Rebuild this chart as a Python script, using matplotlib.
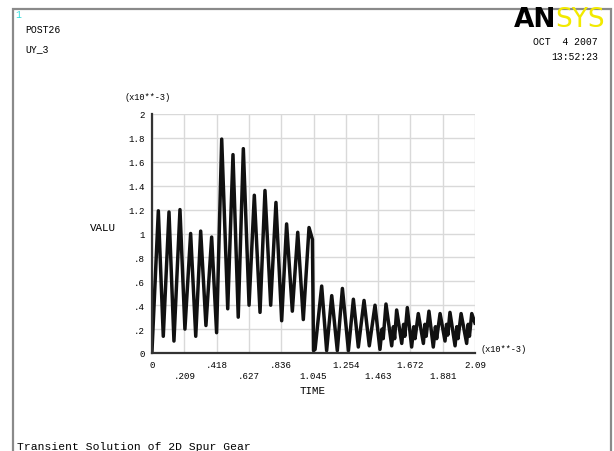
import matplotlib.pyplot as plt
from matplotlib.patches import Rectangle

# -------------------------
# Data (time and UY in units of 1e-3)
# -------------------------
time_ms = [0.000, 0.041, 0.073, 0.110, 0.142, 0.181, 0.213, 0.250, 0.283, 0.315,
           0.349, 0.386, 0.418, 0.451, 0.490, 0.524, 0.558, 0.591, 0.628, 0.662,
           0.699, 0.731, 0.768, 0.802, 0.839, 0.871, 0.908, 0.943, 0.979, 1.016,
           1.038, 1.045, 1.055, 1.098, 1.130, 1.163, 1.199, 1.232, 1.271, 1.303,
           1.335, 1.372, 1.406, 1.443, 1.475, 1.488, 1.496, 1.514, 1.551, 1.562,
           1.570, 1.583, 1.616, 1.628, 1.636, 1.652, 1.680, 1.694, 1.702, 1.723,
           1.756, 1.766, 1.774, 1.792, 1.820, 1.834, 1.842, 1.864, 1.896, 1.906,
           1.914, 1.928, 1.961, 1.972, 1.980, 2.000, 2.036, 2.046, 2.054, 2.069,
           2.090]
uy = [0.02, 1.19, 0.14, 1.18, 0.10, 1.20, 0.20, 1.00, 0.14, 1.02,
      0.23, 0.97, 0.17, 1.79, 0.37, 1.66, 0.30, 1.71, 0.40, 1.32,
      0.34, 1.36, 0.40, 1.26, 0.27, 1.08, 0.35, 1.01, 0.28, 1.05,
      0.95, 0.02, 0.03, 0.56, 0.02, 0.48, 0.02, 0.54, 0.02, 0.45,
      0.05, 0.44, 0.06, 0.40, 0.03, 0.20, 0.12, 0.41, 0.06, 0.22,
      0.12, 0.36, 0.08, 0.24, 0.14, 0.38, 0.05, 0.22, 0.12, 0.33,
      0.08, 0.24, 0.14, 0.35, 0.05, 0.22, 0.12, 0.33, 0.10, 0.24,
      0.15, 0.34, 0.06, 0.22, 0.12, 0.33, 0.08, 0.24, 0.14, 0.33,
      0.25]

xticks = [0, 0.209, 0.418, 0.627, 0.836, 1.045, 1.254, 1.463, 1.672, 1.881, 2.09]
xtick_labels = ["0", ".209", ".418", ".627", ".836", "1.045", "1.254", "1.463", "1.672", "1.881", "2.09"]
yticks = [0, 0.2, 0.4, 0.6, 0.8, 1.0, 1.2, 1.4, 1.6, 1.8, 2.0]
ytick_labels = ["0", ".2", ".4", ".6", ".8", "1", "1.2", "1.4", "1.6", "1.8", "2"]

MONO = "Liberation Mono"
W, H = 614, 452

def px(x, y):
    return x / W, 1 - y / H

# -------------------------
# Figure
# -------------------------
fig = plt.figure(figsize=(W / 100, H / 100), dpi=100)
fig.patch.set_facecolor("white")

# window frame
fig.patches.append(Rectangle((13 / W, -0.01), (611 - 13) / W, 1.01 - 10 / H,
                             transform=fig.transFigure, fill=False,
                             edgecolor="#8a8a8a", linewidth=1.6))

ax = fig.add_axes([152 / W, 1 - 354 / H, (475 - 152) / W, (354 - 115) / H])
ax.plot(time_ms, uy, color="#111111", linewidth=2.5, solid_joinstyle="round")
ax.set_xlim(0, 2.09)
ax.set_ylim(0, 2.0)

# alternate rows of x labels like ANSYS does
xl = [lab if i % 2 == 0 else "\n" + lab for i, lab in enumerate(xtick_labels)]
ax.set_xticks(xticks)
ax.set_xticklabels(xl, fontfamily=MONO, fontsize=6.6, linespacing=1.25)
ax.set_yticks(yticks)
ax.set_yticklabels(ytick_labels, fontfamily=MONO, fontsize=6.6)
ax.tick_params(length=0, pad=5)
ax.grid(True, color="#d9d9d9", linewidth=1.0)
ax.set_axisbelow(True)
for s in ["top", "right"]:
    ax.spines[s].set_visible(False)
for s in ["left", "bottom"]:
    ax.spines[s].set_linewidth(1.6)
    ax.spines[s].set_color("#333333")

# -------------------------
# Annotations
# -------------------------
fig.text(*px(15, 15), "1", color="#33dddd", fontsize=7, fontfamily=MONO, va="center")
fig.text(*px(25, 30), "POST26", fontsize=7, fontfamily=MONO, va="center")
fig.text(*px(25, 49), "UY_3", fontsize=7, fontfamily=MONO, va="center")
fig.text(*px(556, 20), "AN", fontsize=19, fontweight="black", fontfamily="DejaVu Sans",
         ha="right", va="center", color="black")
fig.text(*px(555, 20), "SYS", fontsize=19, fontfamily="DejaVu Sans",
         ha="left", va="center", color="#f2ea00")
fig.text(*px(598, 42), "OCT  4 2007", fontsize=7, fontfamily=MONO, ha="right", va="center")
fig.text(*px(598, 57), "13:52:23", fontsize=7, fontfamily=MONO, ha="right", va="center")
fig.text(*px(124, 98), "(x10**-3)", fontsize=6.2, fontfamily=MONO, va="center")
fig.text(*px(90, 228), "VALU", fontsize=7.8, fontfamily=MONO, va="center")
fig.text(*px(480, 350), "(x10**-3)", fontsize=6.2, fontfamily=MONO, va="center")
fig.text(*px(313, 391), "TIME", fontsize=7.8, fontfamily=MONO, ha="center", va="center")
fig.text(*px(17, 447), "Transient Solution of 2D Spur Gear", fontsize=8.2,
         fontfamily=MONO, va="center")

plt.savefig("out.png", dpi=100)
